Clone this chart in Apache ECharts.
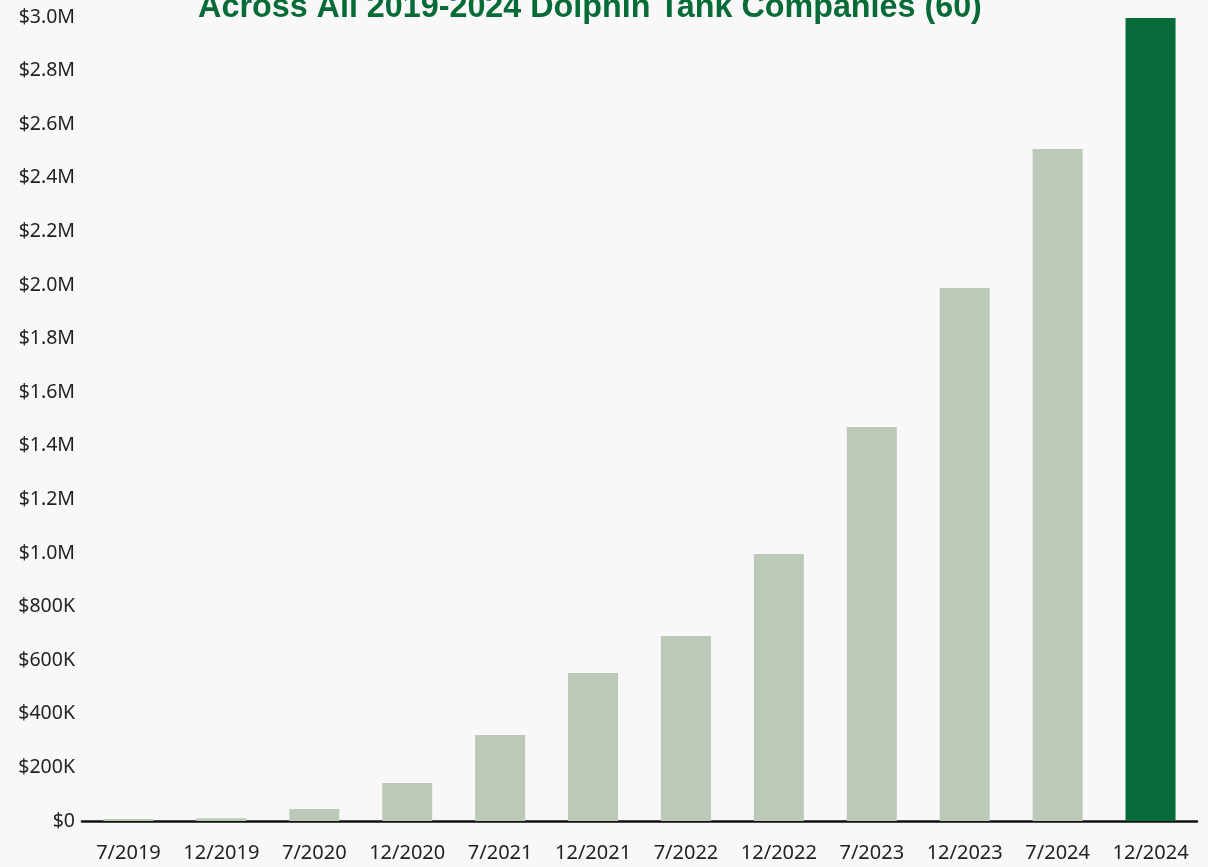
<!DOCTYPE html>
<html>
<head>
<meta charset="utf-8">
<script src="https://cdn.jsdelivr.net/npm/echarts@6/dist/echarts.min.js"></script>
<style>
  html, body { margin: 0; padding: 0; background: #f8f8f8; }
  #main { width: 1208px; height: 867px; }
</style>
</head>
<body>
<div id="main"></div>
<script>
var periods = ['7/2019', '12/2019', '7/2020', '12/2020', '7/2021', '12/2021',
               '7/2022', '12/2022', '7/2023', '12/2023', '7/2024', '12/2024'];
var totals = [7000, 10000, 45000, 142000, 321000, 552000,
              690000, 996000, 1470000, 1989000, 2507000, 2996000];
var highlightIndex = 11;

function money(v) {
  if (v === 0) return '$0';
  if (v >= 1000000) return '$' + (v / 1000000).toFixed(1) + 'M';
  return '$' + Math.round(v / 1000) + 'K';
}

var chart = echarts.init(document.getElementById('main'));
chart.setOption({
  backgroundColor: '#f8f8f8',
  animation: false,
  title: {
    text: 'Across All 2019-2024 Dolphin Tank Companies (60)',
    left: 585,
    textAlign: 'center',
    top: -13,
    textStyle: {
      color: '#076b38',
      fontFamily: 'Liberation Sans',
      fontWeight: 'bold',
      fontSize: 32.3
    }
  },
  grid: { left: 82, right: 11, top: 17, bottom: 46 },
  xAxis: {
    type: 'category',
    data: periods,
    axisLine: { lineStyle: { color: '#111', width: 2.5 } },
    axisTick: { show: false },
    axisLabel: {
      interval: 0, color: '#222', fontFamily: 'Noto Sans', fontSize: 20, margin: 22
    }
  },
  yAxis: {
    type: 'value',
    min: 0,
    max: 3000000,
    interval: 200000,
    splitLine: { show: false },
    axisLine: { show: false },
    axisTick: { show: false },
    axisLabel: {
      color: '#222', fontFamily: 'Noto Sans', fontSize: 19.5, margin: 7,
      formatter: money
    }
  },
  series: [{
    type: 'bar',
    barWidth: 50,
    data: totals.map(function (v, i) {
      return {
        value: v,
        itemStyle: { color: i === highlightIndex ? '#066b38' : '#bcc8b8' }
      };
    })
  }]
});
</script>
</body>
</html>
